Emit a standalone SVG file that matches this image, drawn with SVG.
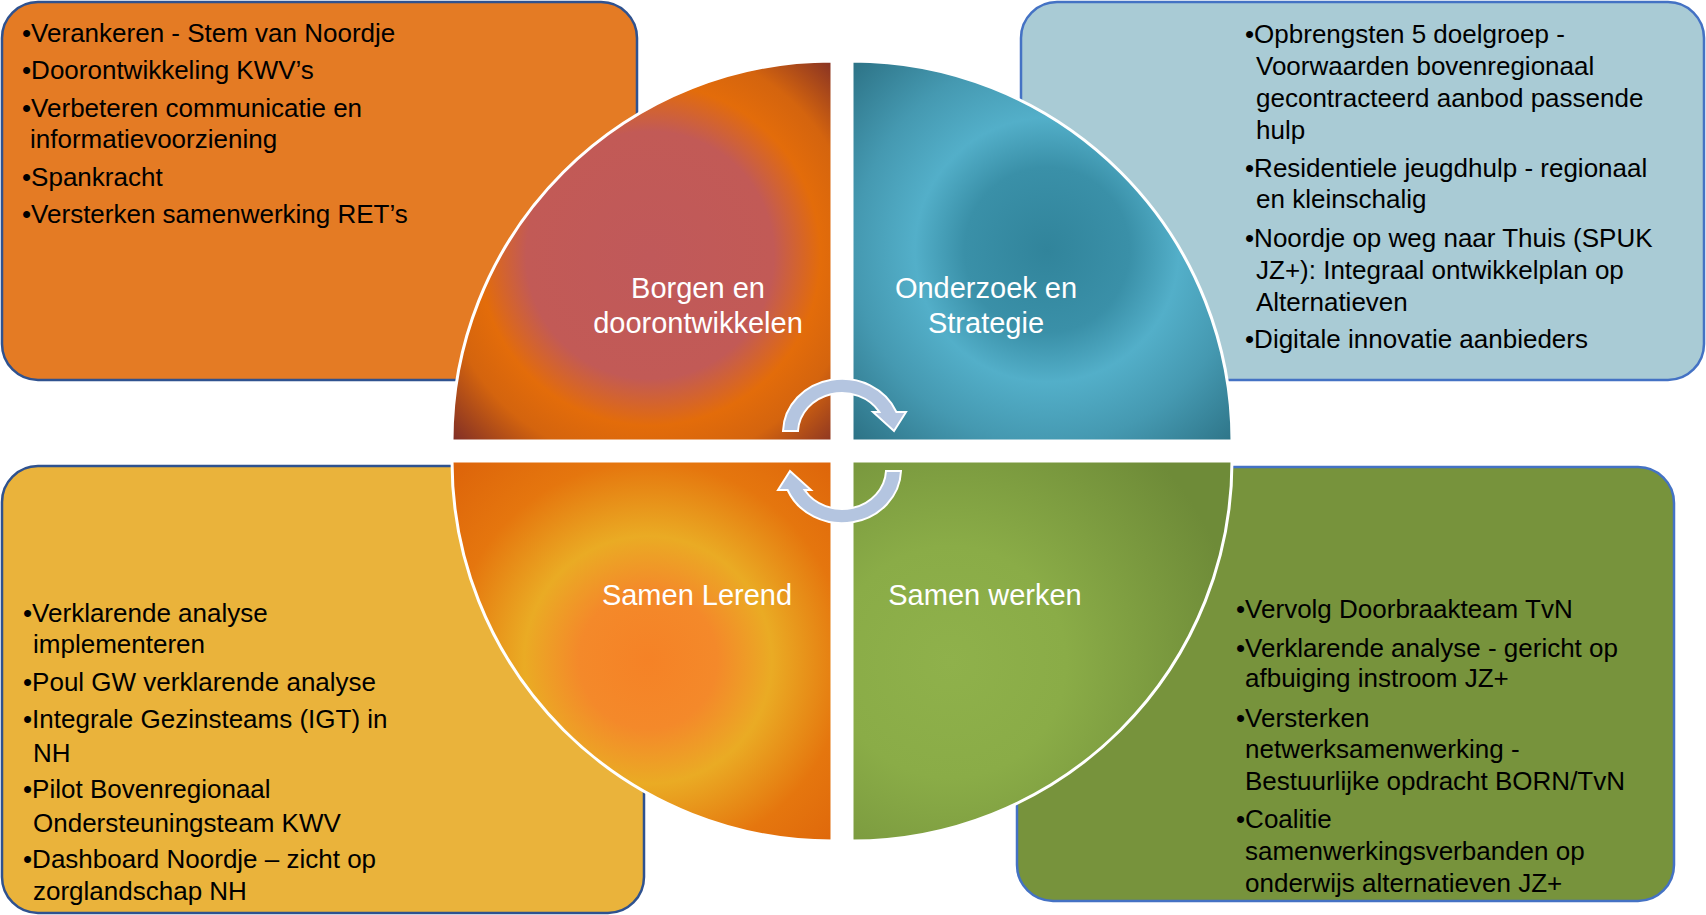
<svg xmlns="http://www.w3.org/2000/svg" width="1706" height="915" viewBox="0 0 1706 915">
<style>
.box{stroke-width:2.5}
.bl{stroke:#2F528F}
.br{stroke:#4472C4}
.t{font-family:"Liberation Sans",Arial,sans-serif;font-size:26px;fill:#000}
.lbl{font-family:"Liberation Sans",Arial,sans-serif;font-size:29px;fill:#fff;text-anchor:middle}
.q{stroke:#fff;stroke-width:3}
.arr{fill:#B4C5E0;stroke:#fff;stroke-width:2}
</style>
<defs>
<radialGradient id="gTL" gradientUnits="userSpaceOnUse" cx="650" cy="255" r="275">
<stop offset="0" stop-color="#C0595A"/>
<stop offset="0.45" stop-color="#C25A56"/>
<stop offset="0.62" stop-color="#E36C0A"/>
<stop offset="0.76" stop-color="#D4640E"/>
<stop offset="1" stop-color="#7A2A28"/>
</radialGradient>
<radialGradient id="gTR" gradientUnits="userSpaceOnUse" cx="1047" cy="250" r="275">
<stop offset="0" stop-color="#31849B"/>
<stop offset="0.3" stop-color="#3A90A8"/>
<stop offset="0.48" stop-color="#53AFC9"/>
<stop offset="0.7" stop-color="#4599B1"/>
<stop offset="1" stop-color="#2B7083"/>
</radialGradient>
<radialGradient id="gBL" gradientUnits="userSpaceOnUse" cx="648" cy="660" r="275">
<stop offset="0" stop-color="#F58226"/>
<stop offset="0.25" stop-color="#F4892A"/>
<stop offset="0.45" stop-color="#EAAB24"/>
<stop offset="0.72" stop-color="#E5760E"/>
<stop offset="1" stop-color="#DD640A"/>
</radialGradient>
<radialGradient id="gBR" gradientUnits="userSpaceOnUse" cx="950" cy="662" r="290">
<stop offset="0" stop-color="#8FB14B"/>
<stop offset="0.4" stop-color="#8AAC47"/>
<stop offset="1" stop-color="#6E8B38"/>
</radialGradient>
</defs>
<rect width="1706" height="915" fill="#fff"/>

<g id="box-tl">
<rect class="box bl" x="2" y="2" width="635" height="378" rx="36" fill="#E47B24"/>
<text class="t"><tspan x="22" y="42">•Verankeren - Stem van Noordje</tspan><tspan x="22" y="79">•Doorontwikkeling KWV’s</tspan><tspan x="22" y="117">•Verbeteren communicatie en</tspan><tspan x="30" y="148">informatievoorziening</tspan><tspan x="22" y="186">•Spankracht</tspan><tspan x="22" y="223">•Versterken samenwerking RET’s</tspan></text>
</g>

<g id="box-tr">
<rect class="box br" x="1021" y="2" width="683" height="378" rx="36" fill="#A9CBD5"/>
<text class="t"><tspan x="1245" y="43">•Opbrengsten 5 doelgroep -</tspan><tspan x="1256" y="75">Voorwaarden bovenregionaal</tspan><tspan x="1256" y="107">gecontracteerd aanbod passende</tspan><tspan x="1256" y="139">hulp</tspan><tspan x="1245" y="177">•Residentiele jeugdhulp - regionaal</tspan><tspan x="1256" y="208">en kleinschalig</tspan><tspan x="1245" y="247">•Noordje op weg naar Thuis (SPUK</tspan><tspan x="1256" y="279">JZ+): Integraal ontwikkelplan op</tspan><tspan x="1256" y="311">Alternatieven</tspan><tspan x="1245" y="348">•Digitale innovatie aanbieders</tspan></text>
</g>

<g id="box-bl">
<rect class="box bl" x="2" y="466" width="642" height="447" rx="36" fill="#EAB33B"/>
<text class="t"><tspan x="23" y="622">•Verklarende analyse</tspan><tspan x="33" y="653">implementeren</tspan><tspan x="23" y="691">•Poul GW verklarende analyse</tspan><tspan x="23" y="728">•Integrale Gezinsteams (IGT) in</tspan><tspan x="33" y="762">NH</tspan><tspan x="23" y="798">•Pilot Bovenregionaal</tspan><tspan x="33" y="832">Ondersteuningsteam KWV</tspan><tspan x="23" y="868">•Dashboard Noordje – zicht op</tspan><tspan x="33" y="900">zorglandschap NH</tspan></text>
</g>

<g id="box-br">
<rect class="box br" x="1017" y="467" width="657" height="434" rx="36" fill="#77933C"/>
<text class="t"><tspan x="1236" y="618">•Vervolg Doorbraakteam TvN</tspan><tspan x="1236" y="657">•Verklarende analyse - gericht op</tspan><tspan x="1245" y="687">afbuiging instroom JZ+</tspan><tspan x="1236" y="727">•Versterken</tspan><tspan x="1245" y="758">netwerksamenwerking -</tspan><tspan x="1245" y="790">Bestuurlijke opdracht BORN/TvN</tspan><tspan x="1236" y="828">•Coalitie</tspan><tspan x="1245" y="860">samenwerkingsverbanden op</tspan><tspan x="1245" y="892">onderwijs alternatieven JZ+</tspan></text>
</g>

<g id="q-borgen">
<path class="q" d="M452,441 A380,380 0 0 1 832,61 L832,441 Z" fill="url(#gTL)"/>
<text class="lbl"><tspan x="698" y="298">Borgen en</tspan><tspan x="698" y="333">doorontwikkelen</tspan></text>
</g>

<g id="q-onderzoek">
<path class="q" d="M852,61 A380,380 0 0 1 1232,441 L852,441 Z" fill="url(#gTR)"/>
<text class="lbl"><tspan x="986" y="298">Onderzoek en</tspan><tspan x="986" y="333">Strategie</tspan></text>
</g>

<g id="q-lerend">
<path class="q" d="M452,461 L832,461 L832,841 A380,380 0 0 1 452,461 Z" fill="url(#gBL)"/>
<text class="lbl"><tspan x="697" y="605">Samen Lerend</tspan></text>
</g>

<g id="q-werken">
<path class="q" d="M852,461 L1232,461 A380,380 0 0 1 852,841 Z" fill="url(#gBR)"/>
<text class="lbl"><tspan x="985" y="605">Samen werken</tspan></text>
</g>

<g id="connectors">
<path class="arr" d="M783,431 A59,54 0 0 1 896.4,412 L906,412 L894,431 L873,412 L879.4,412 A44,40 0 0 0 798,431 Z"/>
<path class="arr" transform="rotate(180 842 451)" d="M783,431 A59,54 0 0 1 896.4,412 L906,412 L894,431 L873,412 L879.4,412 A44,40 0 0 0 798,431 Z"/>
</g>
</svg>
